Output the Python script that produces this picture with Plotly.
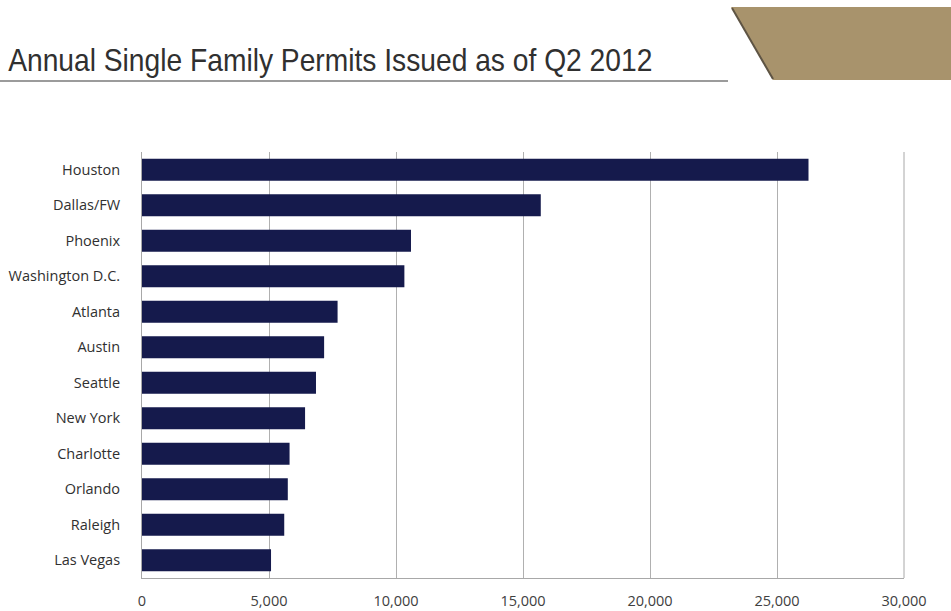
import plotly.graph_objects as go

# Annual single-family permits, trailing twelve months as of Q2 2012
metros = ["Houston", "Dallas/FW", "Phoenix", "Washington D.C.", "Atlanta", "Austin",
          "Seattle", "New York", "Charlotte", "Orlando", "Raleigh", "Las Vegas"]
permits = [26240, 15700, 10590, 10330, 7700, 7170, 6850, 6420, 5810, 5740, 5600, 5080]
x_ticks = [0, 5000, 10000, 15000, 20000, 25000, 30000]
x_tick_text = ["0", "5,000", "10,000", "15,000", "20,000", "25,000", "30,000"]

W, H = 951, 611
L, R, T, B = 142, 904, 152, 578


def px(x):
    return (x - L) / (R - L)


def py(y):
    return (B - y) / (B - T)


fig = go.Figure(go.Bar(
    x=permits,
    y=metros,
    orientation="h",
    marker=dict(color="#151a4c", line=dict(width=0)),
    width=0.62,
    hoverinfo="x+y",
))

fig.update_layout(
    width=W, height=H,
    margin=dict(l=L, r=W - R, t=T, b=H - B, pad=0, autoexpand=False),
    paper_bgcolor="white",
    plot_bgcolor="white",
    showlegend=False,
    font=dict(family="Open Sans, Liberation Sans, sans-serif", color="#404040"),
    xaxis=dict(
        range=[0, 30000],
        tickvals=x_ticks,
        ticktext=x_tick_text,
        showgrid=True, gridcolor="#b0b0b0", gridwidth=1,
        zeroline=False,
        showline=True, linecolor="#a8a8a8", linewidth=1, mirror=False,
        ticks="", ticklabelstandoff=10,
        tickfont=dict(size=14.5, color="#404040"),
        automargin=False,
        fixedrange=True,
    ),
    yaxis=dict(
        categoryorder="array",
        categoryarray=metros[::-1],
        showgrid=False,
        showline=True, linecolor="#a8a8a8", linewidth=1,
        ticks="", ticklabelstandoff=18,
        tickfont=dict(size=14.5, color="#303030"),
        automargin=False,
        fixedrange=True,
    ),
    shapes=[
        # right frame edge of the plot area
        dict(type="line", xref="paper", yref="paper", x0=1, x1=1, y0=0, y1=1,
             line=dict(color="#a8a8a8", width=1)),
        # rule under the heading
        dict(type="line", xref="paper", yref="paper",
             x0=px(0), x1=px(728), y0=py(81), y1=py(81),
             line=dict(color="#7a7a7a", width=1.3)),
        # gold banner in the top-right corner
        dict(type="path", xref="paper", yref="paper",
             path=(f"M {px(731)} {py(7)} L {px(951)} {py(7)} L {px(951)} {py(80)} "
                   f"L {px(773)} {py(80)} Z"),
             fillcolor="#a8936c", line=dict(color="#a8936c", width=0)),
        dict(type="line", xref="paper", yref="paper",
             x0=px(732), y0=py(8), x1=px(773), y1=py(79),
             line=dict(color="#5e5444", width=2)),
    ],
    annotations=[
        dict(text="Annual Single Family Permits Issued as of Q2 2012",
             xref="paper", yref="paper", x=px(6), y=py(80),
             xanchor="left", yanchor="bottom", showarrow=False,
             font=dict(family="Liberation Sans, Arial, sans-serif",
                       size=31, color="#303030")),
    ],
)

# condense the heading horizontally, like a narrow typeface
post_js = """
var gd = document.getElementById('{plot_id}');
function narrowHeading() {
  var t = gd.querySelector('.annotation[data-index="0"] .annotation-text');
  if (t) {
    t.style.transformBox = 'fill-box';
    t.style.transformOrigin = '0 50%';
    t.style.transform = 'scaleX(0.91)';
  }
}
narrowHeading();
gd.on('plotly_afterplot', narrowHeading);
"""

fig.write_html("out.html", post_script=post_js)
